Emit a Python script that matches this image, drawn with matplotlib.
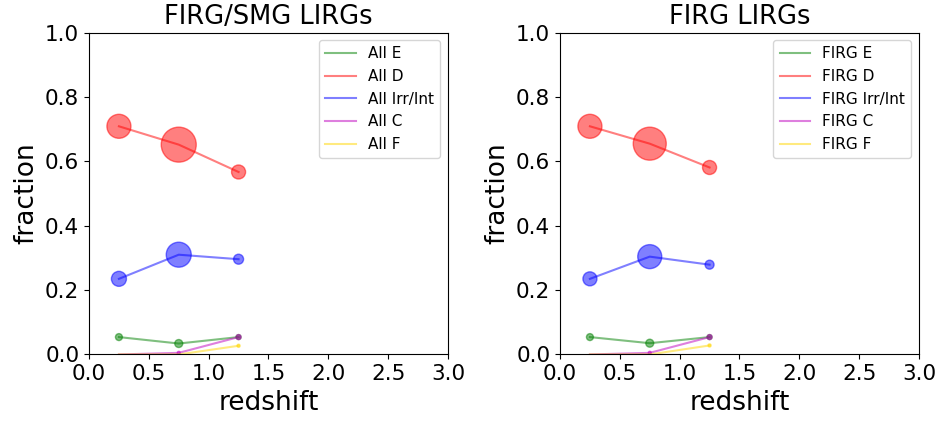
import numpy as np
import matplotlib.pyplot as plt

z = [0.25, 0.75, 1.25]
types = ['E', 'D', 'Irr/Int', 'C', 'F']
colors = ['green', 'red', 'blue', 'm', 'gold']

# left panel: FIRG/SMG LIRGs
all_frac = {
    'E': [0.054, 0.034, 0.054],
    'D': [0.709, 0.652, 0.567],
    'Irr/Int': [0.235, 0.310, 0.296],
    'C': [0.0, 0.005, 0.054],
    'F': [0.0, 0.0, 0.027],
}
all_size = {
    'E': [25, 33, 13],
    'D': [299, 635, 102],
    'Irr/Int': [117, 324, 52],
    'C': [0, 5, 13],
    'F': [0, 0, 5],
}

# right panel: FIRG LIRGs
firg_frac = {
    'E': [0.054, 0.035, 0.054],
    'D': [0.709, 0.655, 0.581],
    'Irr/Int': [0.235, 0.304, 0.279],
    'C': [0.0, 0.005, 0.054],
    'F': [0.0, 0.0, 0.028],
}
firg_size = {
    'E': [25, 33, 13],
    'D': [299, 565, 102],
    'Irr/Int': [102, 299, 42],
    'C': [0, 5, 13],
    'F': [0, 0, 5],
}

fig = plt.figure(figsize=(9.42, 4.24), dpi=100)
ax1 = fig.add_axes([0.0945, 0.164, 0.381, 0.759])
ax2 = fig.add_axes([0.5945, 0.164, 0.381, 0.759])

def panel(ax, frac, size, prefix, title):
    for t, c in zip(types, colors):
        ax.plot(z, frac[t], color=c, alpha=0.5, lw=1.5, label=prefix + ' ' + t)
        ax.scatter(z, frac[t], s=size[t], color=c, alpha=0.5)
    ax.set_xlim(0, 3)
    ax.set_ylim(0, 1)
    ax.set_xticks(np.arange(0, 3.01, 0.5))
    ax.set_yticks(np.arange(0, 1.01, 0.2))
    ax.tick_params(labelsize=15.5)
    ax.set_xlabel('redshift', fontsize=19)
    ax.set_ylabel('fraction', fontsize=19)
    ax.set_title(title, fontsize=18.5)
    ax.legend(loc='upper right', fontsize=11)

panel(ax1, all_frac, all_size, 'All', 'FIRG/SMG LIRGs')
panel(ax2, firg_frac, firg_size, 'FIRG', 'FIRG LIRGs')

fig.savefig('out.png', dpi=100)
